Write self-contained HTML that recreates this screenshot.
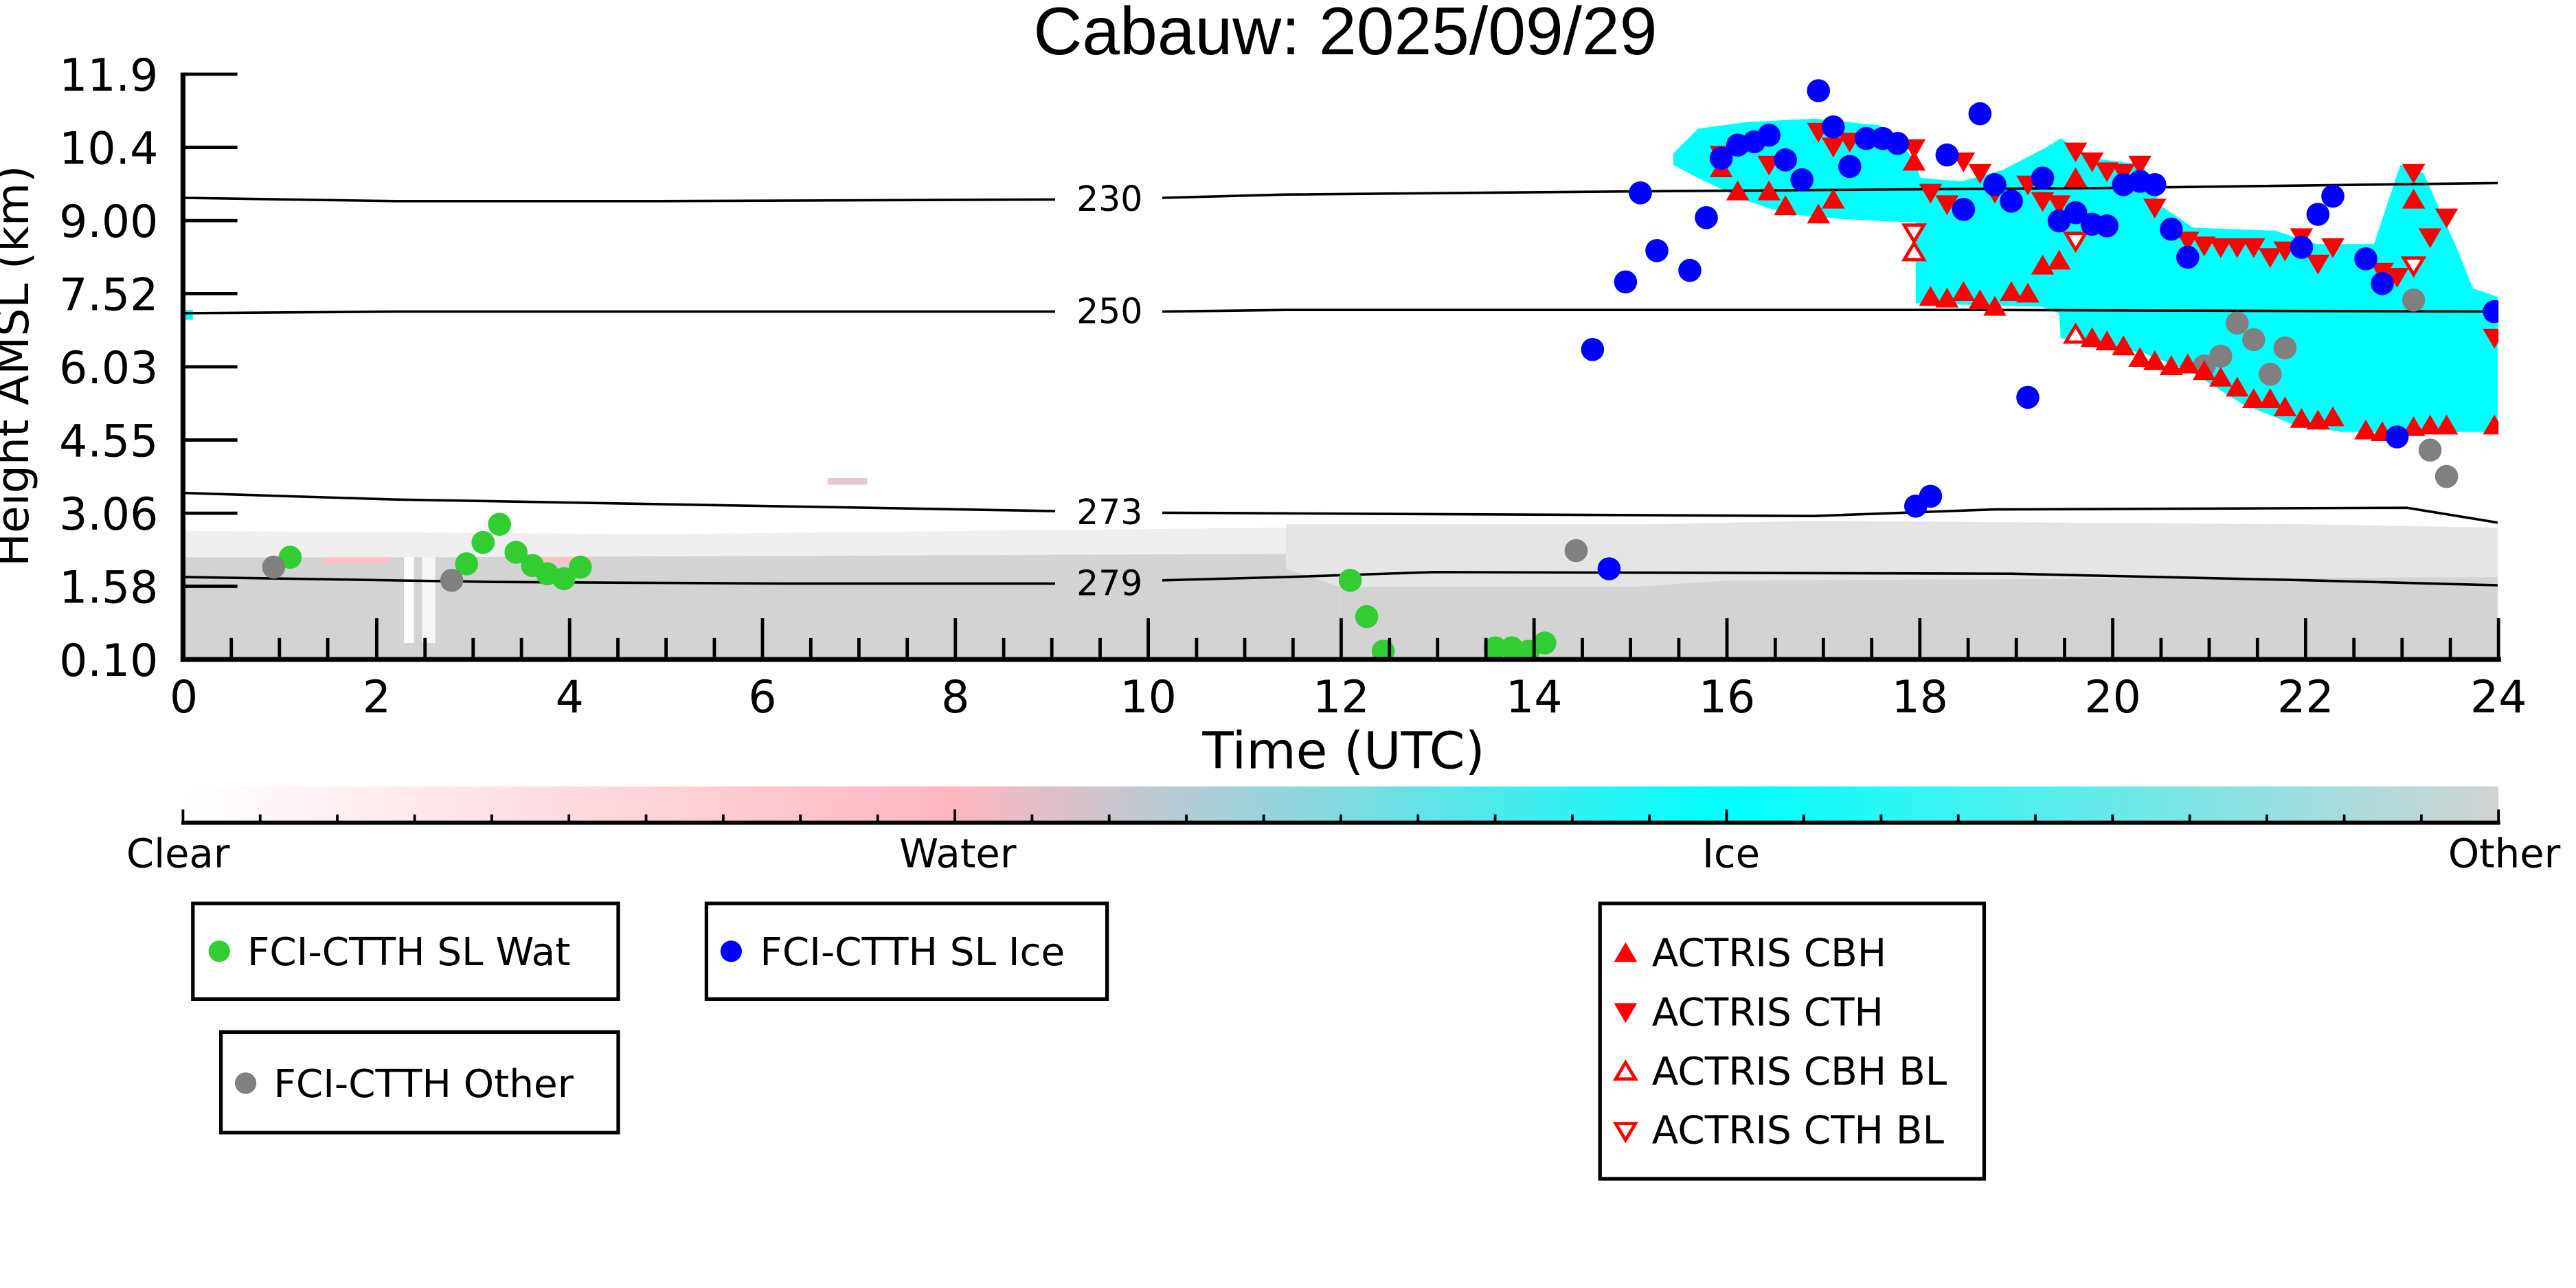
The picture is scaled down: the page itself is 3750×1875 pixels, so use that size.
<!DOCTYPE html>
<html><head><meta charset="utf-8"><style>html,body{margin:0;padding:0;background:#fff}svg{display:block}</style></head>
<body>
<svg xmlns="http://www.w3.org/2000/svg" xmlns:xlink="http://www.w3.org/1999/xlink" width="3750" height="1875" viewBox="0 0 1562.5 781.25">
<defs>
<linearGradient id="cb" x1="0" x2="1" y1="0" y2="0">
<stop offset="0" stop-color="#ffffff"/><stop offset="0.333" stop-color="#ffb6c1"/><stop offset="0.667" stop-color="#00ffff"/><stop offset="1" stop-color="#d3d3d3"/>
</linearGradient>
<clipPath id="pc"><rect x="111" y="30" width="1404.5" height="370"/></clipPath>
<polygon id="u" points="0,-6.5 7,5.5 -7,5.5" fill="#ff0000"/>
<polygon id="d" points="0,6.5 7,-5.5 -7,-5.5" fill="#ff0000"/>
<polygon id="uo" points="0,-5.5 6,4.5 -6,4.5" fill="#fff" stroke="#ff0000" stroke-width="2"/>
<polygon id="do" points="0,5.5 6,-4.5 -6,-4.5" fill="#fff" stroke="#ff0000" stroke-width="2"/>
</defs>
<rect width="1562.5" height="781.25" fill="#fff"/>
<text x="816" y="33" font-family="Liberation Sans, sans-serif" font-size="41" text-anchor="middle">Cabauw: 2025/09/29</text>

<g clip-path="url(#pc)">
<polygon points="111,322 400,324 780,320 780,338 111,338" fill="#efefef"/>
<polygon points="111,338 243,338 243,400 111,400" fill="#d3d3d3"/>
<polygon points="266,338 780,336 813,345 813,400 266,400" fill="#d3d3d3"/>
<rect x="243" y="338" width="23" height="62" fill="#d3d3d3"/>
<rect x="245" y="338" width="6" height="52" fill="#fff"/>
<rect x="256" y="338" width="8" height="52" fill="#f6f6f6"/>
<polygon points="780,318 1000,318 1100,316 1400,318 1515,320 1515,350 1050,352 990,356 813,356 780,345" fill="#e5e5e5"/>
<polygon points="813,356 990,356 1050,352 1515,350 1515,400 813,400" fill="#d3d3d3"/>
<rect x="196" y="338" width="40" height="4" fill="#ffc0c8"/>
<rect x="320" y="338" width="40" height="4" fill="#ffc0c8"/>
<rect x="502" y="290" width="24" height="4" fill="#e8c8cc"/>
<polygon points="1015,93 1030,78 1060,74 1100,72 1140,76 1160,95 1165,108 1190,110 1215,103 1240,90 1250,84 1270,96 1300,100 1311,125 1330,138 1380,140 1405,148 1440,148 1456,100 1470,105 1490,150 1500,175 1515,180 1515,262 1450,262 1420,262 1390,257 1360,245 1330,226 1300,214 1250,205 1249,190 1238,186 1162,184 1162,135 1120,133 1085,130 1060,122 1030,108 1015,100" fill="#00ffff"/>
<rect x="112" y="188" width="5" height="6" fill="#00ffff"/>
</g>

<g fill="none" stroke="#000" stroke-width="1.5">
<polyline points="111,120 240,122 400,122 640,121"/><polyline points="705,120 780,118 1000,116 1280,114 1515,111"/>
<polyline points="111,190 240,189 640,189"/><polyline points="705,189 780,188 1200,188 1515,189"/>
<polyline points="111,299 240,303 640,310"/><polyline points="705,311 900,312 1100,313 1210,309 1460,308 1515,317"/>
<polyline points="111,350 300,353 480,354 640,354"/><polyline points="705,352 780,350 870,347 1220,348 1400,352 1515,355"/>
</g>
<g font-family="DejaVu Sans, sans-serif" font-size="21" text-anchor="middle">
<text x="673" y="128">230</text><text x="673" y="196">250</text><text x="673" y="318">273</text><text x="673" y="361">279</text>
</g>

<g clip-path="url(#pc)">
<g fill="#32cd32">
<circle cx="176" cy="338" r="7"/><circle cx="283" cy="342" r="7"/><circle cx="293" cy="329" r="7"/><circle cx="303" cy="318" r="7"/><circle cx="313" cy="335" r="7"/><circle cx="323" cy="343" r="7"/><circle cx="332" cy="348" r="7"/><circle cx="342" cy="351" r="7"/><circle cx="352" cy="344" r="7"/><circle cx="819" cy="352" r="7"/><circle cx="829" cy="374" r="7"/><circle cx="839" cy="395" r="7"/><circle cx="907" cy="393" r="7"/><circle cx="917" cy="393" r="7"/><circle cx="927" cy="395" r="7"/><circle cx="937" cy="390" r="7"/>
</g>
<g fill="#808080">
<circle cx="166" cy="344" r="7"/><circle cx="274" cy="352" r="7"/><circle cx="956" cy="334" r="7"/><circle cx="1464" cy="182" r="7"/><circle cx="1357" cy="196" r="7"/><circle cx="1367" cy="206" r="7"/><circle cx="1386" cy="211" r="7"/><circle cx="1347" cy="216" r="7"/><circle cx="1337" cy="222" r="7"/><circle cx="1377" cy="227" r="7"/><circle cx="1474" cy="273" r="7"/><circle cx="1484" cy="289" r="7"/>
</g>
<g>
<use href="#u" x="1044" y="102"/><use href="#u" x="1054" y="116"/><use href="#u" x="1073" y="116"/><use href="#u" x="1083" y="125"/><use href="#u" x="1103" y="130"/><use href="#u" x="1112" y="121"/><use href="#u" x="1161" y="98"/><use href="#u" x="1171" y="180"/><use href="#u" x="1181" y="181"/><use href="#u" x="1191" y="177"/><use href="#u" x="1201" y="182"/><use href="#u" x="1210" y="186"/><use href="#u" x="1220" y="177"/><use href="#u" x="1230" y="178"/><use href="#u" x="1239" y="161"/><use href="#u" x="1249" y="158"/><use href="#u" x="1259" y="108"/><use href="#u" x="1269" y="205"/><use href="#u" x="1278" y="207"/><use href="#u" x="1288" y="210"/><use href="#u" x="1298" y="217"/><use href="#u" x="1307" y="219"/><use href="#u" x="1317" y="222"/><use href="#u" x="1327" y="221"/><use href="#u" x="1337" y="225"/><use href="#u" x="1347" y="229"/><use href="#u" x="1357" y="235"/><use href="#u" x="1367" y="242"/><use href="#u" x="1377" y="242"/><use href="#u" x="1386" y="247"/><use href="#u" x="1396" y="254"/><use href="#u" x="1406" y="255"/><use href="#u" x="1415" y="253"/><use href="#u" x="1435" y="261"/><use href="#u" x="1445" y="262"/><use href="#u" x="1464" y="259"/><use href="#u" x="1474" y="258"/><use href="#u" x="1484" y="258"/><use href="#u" x="1464" y="121"/><use href="#u" x="1513" y="258"/>
<use href="#d" x="1044" y="94"/><use href="#d" x="1073" y="100"/><use href="#d" x="1103" y="80"/><use href="#d" x="1112" y="89"/><use href="#d" x="1122" y="86"/><use href="#d" x="1161" y="90"/><use href="#d" x="1171" y="117"/><use href="#d" x="1181" y="124"/><use href="#d" x="1191" y="98"/><use href="#d" x="1201" y="105"/><use href="#d" x="1210" y="117"/><use href="#d" x="1230" y="112"/><use href="#d" x="1239" y="122"/><use href="#d" x="1249" y="124"/><use href="#d" x="1259" y="92"/><use href="#d" x="1269" y="98"/><use href="#d" x="1278" y="104"/><use href="#d" x="1288" y="105"/><use href="#d" x="1298" y="100"/><use href="#d" x="1307" y="126"/><use href="#d" x="1327" y="146"/><use href="#d" x="1337" y="149"/><use href="#d" x="1347" y="150"/><use href="#d" x="1357" y="150"/><use href="#d" x="1367" y="150"/><use href="#d" x="1377" y="156"/><use href="#d" x="1386" y="152"/><use href="#d" x="1396" y="144"/><use href="#d" x="1406" y="160"/><use href="#d" x="1415" y="150"/><use href="#d" x="1445" y="165"/><use href="#d" x="1454" y="168"/><use href="#d" x="1464" y="105"/><use href="#d" x="1474" y="144"/><use href="#d" x="1484" y="132"/><use href="#d" x="1513" y="205"/>
<use href="#uo" x="1161" y="153"/><use href="#uo" x="1259" y="203"/>
<use href="#do" x="1161" y="141"/><use href="#do" x="1259" y="146"/><use href="#do" x="1464" y="161"/>
</g>
<g fill="#0000ff">
<circle cx="966" cy="212" r="7"/><circle cx="976" cy="345" r="7"/><circle cx="986" cy="171" r="7"/><circle cx="995" cy="117" r="7"/><circle cx="1005" cy="152" r="7"/><circle cx="1025" cy="164" r="7"/><circle cx="1035" cy="132" r="7"/><circle cx="1044" cy="96" r="7"/><circle cx="1054" cy="88" r="7"/><circle cx="1064" cy="86" r="7"/><circle cx="1073" cy="82" r="7"/><circle cx="1083" cy="97" r="7"/><circle cx="1093" cy="109" r="7"/><circle cx="1103" cy="55" r="7"/><circle cx="1112" cy="77" r="7"/><circle cx="1122" cy="101" r="7"/><circle cx="1132" cy="84" r="7"/><circle cx="1142" cy="84" r="7"/><circle cx="1151" cy="87" r="7"/><circle cx="1162" cy="307" r="7"/><circle cx="1171" cy="301" r="7"/><circle cx="1181" cy="94" r="7"/><circle cx="1191" cy="127" r="7"/><circle cx="1201" cy="69" r="7"/><circle cx="1210" cy="112" r="7"/><circle cx="1220" cy="122" r="7"/><circle cx="1230" cy="241" r="7"/><circle cx="1239" cy="108" r="7"/><circle cx="1249" cy="134" r="7"/><circle cx="1259" cy="129" r="7"/><circle cx="1269" cy="136" r="7"/><circle cx="1278" cy="137" r="7"/><circle cx="1288" cy="112" r="7"/><circle cx="1298" cy="110" r="7"/><circle cx="1307" cy="112" r="7"/><circle cx="1317" cy="139" r="7"/><circle cx="1327" cy="156" r="7"/><circle cx="1396" cy="150" r="7"/><circle cx="1406" cy="130" r="7"/><circle cx="1415" cy="119" r="7"/><circle cx="1435" cy="157" r="7"/><circle cx="1445" cy="172" r="7"/><circle cx="1454" cy="265" r="7"/><circle cx="1513" cy="189" r="7"/>
</g>
</g>

<g stroke="#000" stroke-width="2">
<line x1="111" y1="45" x2="144" y2="45"/><line x1="111" y1="89.4" x2="144" y2="89.4"/><line x1="111" y1="133.8" x2="144" y2="133.8"/><line x1="111" y1="178.1" x2="144" y2="178.1"/><line x1="111" y1="222.5" x2="144" y2="222.5"/><line x1="111" y1="266.9" x2="144" y2="266.9"/><line x1="111" y1="311.3" x2="144" y2="311.3"/><line x1="111" y1="355.6" x2="144" y2="355.6"/>
<line x1="228.5" y1="400" x2="228.5" y2="375"/><line x1="345.5" y1="400" x2="345.5" y2="375"/><line x1="462.5" y1="400" x2="462.5" y2="375"/><line x1="579.5" y1="400" x2="579.5" y2="375"/><line x1="696.5" y1="400" x2="696.5" y2="375"/><line x1="813.5" y1="400" x2="813.5" y2="375"/><line x1="930.5" y1="400" x2="930.5" y2="375"/><line x1="1047.5" y1="400" x2="1047.5" y2="375"/><line x1="1164.5" y1="400" x2="1164.5" y2="375"/><line x1="1281.5" y1="400" x2="1281.5" y2="375"/><line x1="1398.5" y1="400" x2="1398.5" y2="375"/><line x1="1515.5" y1="400" x2="1515.5" y2="375"/>
</g>
<g stroke="#000" stroke-width="2">
<line x1="140.3" y1="400" x2="140.3" y2="387"/><line x1="169.5" y1="400" x2="169.5" y2="387"/><line x1="198.8" y1="400" x2="198.8" y2="387"/>
<line x1="257.8" y1="400" x2="257.8" y2="387"/><line x1="287" y1="400" x2="287" y2="387"/><line x1="316.3" y1="400" x2="316.3" y2="387"/>
<line x1="374.8" y1="400" x2="374.8" y2="387"/><line x1="404" y1="400" x2="404" y2="387"/><line x1="433.3" y1="400" x2="433.3" y2="387"/>
<line x1="491.8" y1="400" x2="491.8" y2="387"/><line x1="521" y1="400" x2="521" y2="387"/><line x1="550.3" y1="400" x2="550.3" y2="387"/>
<line x1="608.8" y1="400" x2="608.8" y2="387"/><line x1="638" y1="400" x2="638" y2="387"/><line x1="667.3" y1="400" x2="667.3" y2="387"/>
<line x1="725.8" y1="400" x2="725.8" y2="387"/><line x1="755" y1="400" x2="755" y2="387"/><line x1="784.3" y1="400" x2="784.3" y2="387"/>
<line x1="842.8" y1="400" x2="842.8" y2="387"/><line x1="872" y1="400" x2="872" y2="387"/><line x1="901.3" y1="400" x2="901.3" y2="387"/>
<line x1="959.8" y1="400" x2="959.8" y2="387"/><line x1="989" y1="400" x2="989" y2="387"/><line x1="1018.3" y1="400" x2="1018.3" y2="387"/>
<line x1="1076.8" y1="400" x2="1076.8" y2="387"/><line x1="1106" y1="400" x2="1106" y2="387"/><line x1="1135.3" y1="400" x2="1135.3" y2="387"/>
<line x1="1193.8" y1="400" x2="1193.8" y2="387"/><line x1="1223" y1="400" x2="1223" y2="387"/><line x1="1252.3" y1="400" x2="1252.3" y2="387"/>
<line x1="1310.8" y1="400" x2="1310.8" y2="387"/><line x1="1340" y1="400" x2="1340" y2="387"/><line x1="1369.3" y1="400" x2="1369.3" y2="387"/>
<line x1="1427.8" y1="400" x2="1427.8" y2="387"/><line x1="1457" y1="400" x2="1457" y2="387"/><line x1="1486.3" y1="400" x2="1486.3" y2="387"/>
</g>
<line x1="111" y1="44" x2="111" y2="401.5" stroke="#000" stroke-width="3"/>
<line x1="109.5" y1="400" x2="1517" y2="400" stroke="#000" stroke-width="3"/>

<g font-family="DejaVu Sans, sans-serif" font-size="27" text-anchor="end">
<text x="96" y="55">11.9</text><text x="96" y="99.4">10.4</text><text x="96" y="143.8">9.00</text><text x="96" y="188.1">7.52</text><text x="96" y="232.5">6.03</text><text x="96" y="276.9">4.55</text><text x="96" y="321.3">3.06</text><text x="96" y="365.6">1.58</text><text x="96" y="410">0.10</text>
</g>
<g font-family="DejaVu Sans, sans-serif" font-size="27" text-anchor="middle">
<text x="111.5" y="432">0</text><text x="228.5" y="432">2</text><text x="345.5" y="432">4</text><text x="462.5" y="432">6</text><text x="579.5" y="432">8</text><text x="696.5" y="432">10</text><text x="813.5" y="432">12</text><text x="930.5" y="432">14</text><text x="1047.5" y="432">16</text><text x="1164.5" y="432">18</text><text x="1281.5" y="432">20</text><text x="1398.5" y="432">22</text><text x="1515.5" y="432">24</text>
<text x="815" y="466" font-size="31">Time (UTC)</text>
<text transform="translate(17,222) rotate(-90)" font-size="27">Height AMSL (km)</text>
</g>

<rect x="111" y="477" width="1404.5" height="22" fill="url(#cb)"/>
<line x1="110" y1="499" x2="1516.5" y2="499" stroke="#000" stroke-width="2.5"/>
<g stroke="#000" stroke-width="1.6">
<line x1="111" y1="499" x2="111" y2="491"/><line x1="579.2" y1="499" x2="579.2" y2="491"/><line x1="1047.3" y1="499" x2="1047.3" y2="491"/><line x1="1515.5" y1="499" x2="1515.5" y2="491"/>
<line x1="157.8" y1="499" x2="157.8" y2="494"/><line x1="204.6" y1="499" x2="204.6" y2="494"/><line x1="251.5" y1="499" x2="251.5" y2="494"/><line x1="298.3" y1="499" x2="298.3" y2="494"/><line x1="345.1" y1="499" x2="345.1" y2="494"/><line x1="391.9" y1="499" x2="391.9" y2="494"/><line x1="438.7" y1="499" x2="438.7" y2="494"/><line x1="485.5" y1="499" x2="485.5" y2="494"/><line x1="532.4" y1="499" x2="532.4" y2="494"/>
<line x1="626" y1="499" x2="626" y2="494"/><line x1="672.8" y1="499" x2="672.8" y2="494"/><line x1="719.6" y1="499" x2="719.6" y2="494"/><line x1="766.5" y1="499" x2="766.5" y2="494"/><line x1="813.3" y1="499" x2="813.3" y2="494"/><line x1="860.1" y1="499" x2="860.1" y2="494"/><line x1="906.9" y1="499" x2="906.9" y2="494"/><line x1="953.7" y1="499" x2="953.7" y2="494"/><line x1="1000.5" y1="499" x2="1000.5" y2="494"/>
<line x1="1094.1" y1="499" x2="1094.1" y2="494"/><line x1="1141" y1="499" x2="1141" y2="494"/><line x1="1187.8" y1="499" x2="1187.8" y2="494"/><line x1="1234.6" y1="499" x2="1234.6" y2="494"/><line x1="1281.4" y1="499" x2="1281.4" y2="494"/><line x1="1328.2" y1="499" x2="1328.2" y2="494"/><line x1="1375" y1="499" x2="1375" y2="494"/><line x1="1421.9" y1="499" x2="1421.9" y2="494"/><line x1="1468.7" y1="499" x2="1468.7" y2="494"/>
</g>
<g font-family="DejaVu Sans, sans-serif" font-size="24" text-anchor="middle">
<text x="108" y="526">Clear</text><text x="581" y="526">Water</text><text x="1050" y="526">Ice</text><text x="1519" y="526">Other</text>
</g>

<g fill="none" stroke="#000" stroke-width="2.2">
<rect x="117" y="548" width="258" height="58"/>
<rect x="428.5" y="548" width="243" height="58"/>
<rect x="134" y="626" width="241" height="61"/>
<rect x="970.5" y="548" width="233" height="167"/>
</g>
<g font-family="DejaVu Sans, sans-serif" font-size="23.5">
<circle cx="133" cy="577" r="6.5" fill="#32cd32"/><text x="150" y="585.5">FCI-CTTH SL Wat</text>
<circle cx="443.5" cy="577" r="6.5" fill="#0000ff"/><text x="461" y="585.5">FCI-CTTH SL Ice</text>
<circle cx="149" cy="657" r="6.5" fill="#808080"/><text x="166" y="665.5">FCI-CTTH Other</text>
<use href="#u" x="986" y="578"/><text x="1002" y="586">ACTRIS CBH</text>
<use href="#d" x="986" y="614"/><text x="1002" y="622">ACTRIS CTH</text>
<use href="#uo" x="986" y="650"/><text x="1002" y="658">ACTRIS CBH BL</text>
<use href="#do" x="986" y="686"/><text x="1002" y="693.5">ACTRIS CTH BL</text>
</g>
</svg>
</body></html>
